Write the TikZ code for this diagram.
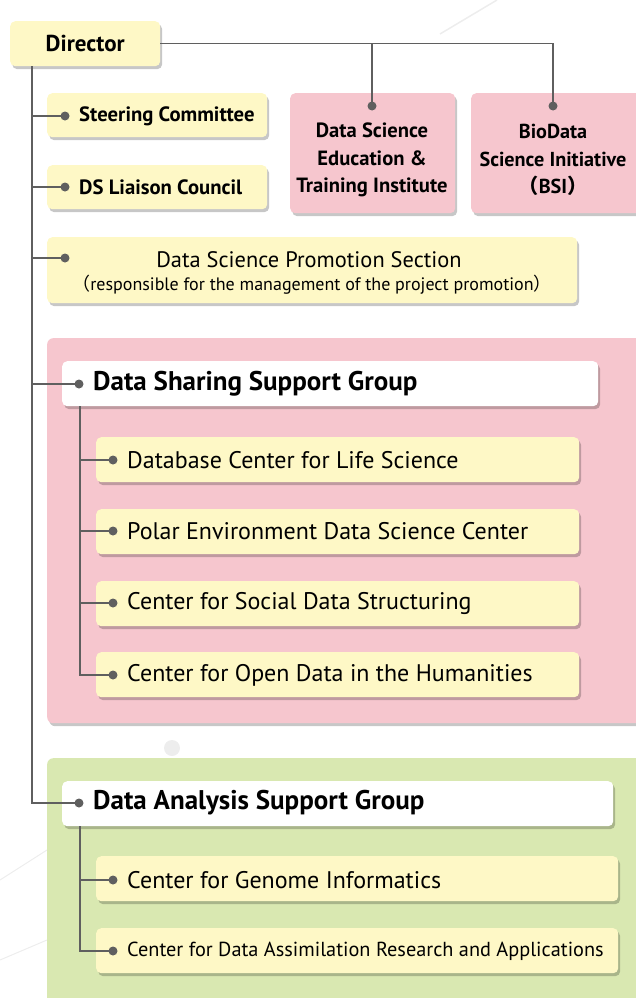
\documentclass[tikz,border=0pt]{standalone}
\usepackage{fontspec}
\setmainfont{PT Sans}
\newfontfamily\cjk{Noto Sans CJK JP}
\usetikzlibrary{shadows}
\definecolor{byel}{HTML}{FEF8C6}
\definecolor{bpink}{HTML}{F6C6CE}
\definecolor{bgreen}{HTML}{D9E8B1}
\definecolor{lgray}{HTML}{5F5F5F}
\definecolor{faint}{HTML}{EDEDED}
\newcommand{\lp}{{\cjk （}}
\newcommand{\rp}{{\cjk ）}}
\tikzset{
  shad/.style={drop shadow={shadow xshift=2pt, shadow yshift=-3pt, fill=black, opacity=0.22}},
  ybox/.style={rounded corners=5pt, fill=byel, draw=none, shad, inner sep=0pt},
  pbox/.style={rounded corners=5pt, fill=bpink, draw=none, shad, inner sep=0pt},
  wbox/.style={rounded corners=5pt, fill=white, draw=none, shad, inner sep=0pt},
  gpink/.style={rounded corners=6pt, fill=bpink, draw=none, shad, inner sep=0pt},
  ggreen/.style={rounded corners=6pt, fill=bgreen, draw=none, shad, inner sep=0pt},
  conn/.style={draw=lgray, line width=1.3pt},
  dotc/.style={fill=lgray},
  titletxt/.style={font=\fontsize{20.7}{27}\selectfont\bfseries, inner sep=0pt, anchor=west},
  subtxt/.style={font=\fontsize{24}{28}\selectfont, inner sep=0pt, anchor=west},
  grptxt/.style={font=\fontsize{27}{30}\selectfont\bfseries, inner sep=0pt, anchor=west},
}
\begin{document}
\begin{tikzpicture}[x=1pt,y=-1pt]
\useasboundingbox (0,0) rectangle (636,998);
% faint background lines
\draw[faint, line width=1.5pt] (440,34) -- (497,0);
\draw[faint, line width=1pt] (0,880) -- (47,850);
\draw[faint, line width=1pt] (0,960) -- (47,940);
\fill[faint] (172,748) circle (8);
% coordinates of trunks
\coordinate (mx) at (32,0);
\coordinate (sx) at (80,0);
% Director
\node[ybox, minimum width=150, minimum height=45, anchor=north west,
      font=\fontsize{23}{27}\selectfont\bfseries] (dir) at (10,21) {Director};
% Steering committee
\node[ybox, minimum width=220, minimum height=44, anchor=north west] (sc) at (47,93) {};
\coordinate (dSC) at (65,116);
\node[titletxt] (sct) at (79,116) {Steering Committee};
% DS Liaison
\node[ybox, minimum width=220, minimum height=44, anchor=north west] (ds) at (47,165) {};
\coordinate (dDS) at (65,187);
\node[titletxt] (dst) at (79,187) {DS Liaison Council};
% Pink top boxes
\node[pbox, minimum width=165, minimum height=120, anchor=north west] (edu) at (290,93) {};
\node[font=\fontsize{20.6}{27.5}\selectfont\bfseries, align=center, inner sep=0pt] (edut) at (372,160)
  {Data Science\\Education \&\\Training Institute};
\coordinate (dEdu) at (372,106);
\node[pbox, minimum width=170, minimum height=120, anchor=north west] (bio) at (471,93) {};
\node[font=\fontsize{20.2}{27.5}\selectfont\bfseries, align=center, inner sep=0pt] (biot) at (553,160)
  {BioData\\Science Initiative\\\lp BSI\rp};
\coordinate (dBio) at (553,106);
% Promotion section
\node[ybox, minimum width=530, minimum height=66, anchor=north west] (pr) at (47,237) {};
\coordinate (dPr) at (65,258);
\node[font=\fontsize{22.4}{26}\selectfont, inner sep=0pt] (prt1) at (309,260) {Data Science Promotion Section};
\node[font=\fontsize{18}{22}\selectfont, inner sep=0pt] (prt2) at (312,285) {\lp responsible for the management of the project promotion\rp};
% Data sharing group
\node[gpink, minimum width=600, minimum height=385, anchor=north west] (gShare) at (47,338) {};
\node[wbox, minimum width=536, minimum height=45, anchor=north west] (hS) at (62,361) {};
\coordinate (dHS) at (79,384);
\node[grptxt] (hSt) at (93,384) {Data Sharing Support Group};
\node[ybox, minimum width=483, minimum height=45, anchor=north west] (s1) at (96,437) {};
\node[ybox, minimum width=483, minimum height=45, anchor=north west] (s2) at (96,509) {};
\node[ybox, minimum width=483, minimum height=45, anchor=north west] (s3) at (96,581) {};
\node[ybox, minimum width=483, minimum height=45, anchor=north west] (s4) at (96,652) {};
\coordinate (d1) at (113,460);
\coordinate (d2) at (113,531);
\coordinate (d3) at (113,603);
\coordinate (d4) at (113,675);
\node[subtxt] (s1t) at (127,460) {Database Center for Life Science};
\node[subtxt] (s2t) at (127,531) {Polar Environment Data Science Center};
\node[subtxt] (s3t) at (127,603) {Center for Social Data Structuring};
\node[subtxt] (s4t) at (127,675) {Center for Open Data in the Humanities};
% Data analysis group
\node[ggreen, minimum width=600, minimum height=250, anchor=north west] (gAna) at (47,758) {};
\node[wbox, minimum width=551, minimum height=45, anchor=north west] (hA) at (62,781) {};
\coordinate (dHA) at (79,803);
\node[grptxt] (hAt) at (93,803) {Data Analysis Support Group};
\node[ybox, minimum width=522, minimum height=45, anchor=north west] (a1) at (96,856) {};
\node[ybox, minimum width=522, minimum height=45, anchor=north west] (a2) at (96,928) {};
\coordinate (e1) at (113,880);
\coordinate (e2) at (113,951);
\node[subtxt] (a1t) at (127,880) {Center for Genome Informatics};
\node[subtxt, font=\fontsize{20.3}{24}\selectfont] (a2t) at (127,951) {Center for Data Assimilation Research and Applications};
% connectors
\draw[conn] (dir.east) -| (dEdu);
\draw[conn] (dir.east) -| (dBio);
\draw[conn] (dir.south -| mx) |- (dHA);
\foreach \d in {dSC,dDS,dPr,dHS} \draw[conn] (\d -| mx) -- (\d);
\draw[conn] (hS.south -| sx) |- (d4);
\foreach \d in {d1,d2,d3} \draw[conn] (\d -| sx) -- (\d);
\draw[conn] (hA.south -| sx) |- (e2);
\draw[conn] (e1 -| sx) -- (e1);
\foreach \d in {dEdu,dBio,dSC,dDS,dPr,dHS,d1,d2,d3,d4,dHA,e1,e2} \fill[dotc] (\d) circle (4.5);
\end{tikzpicture}
\end{document}
